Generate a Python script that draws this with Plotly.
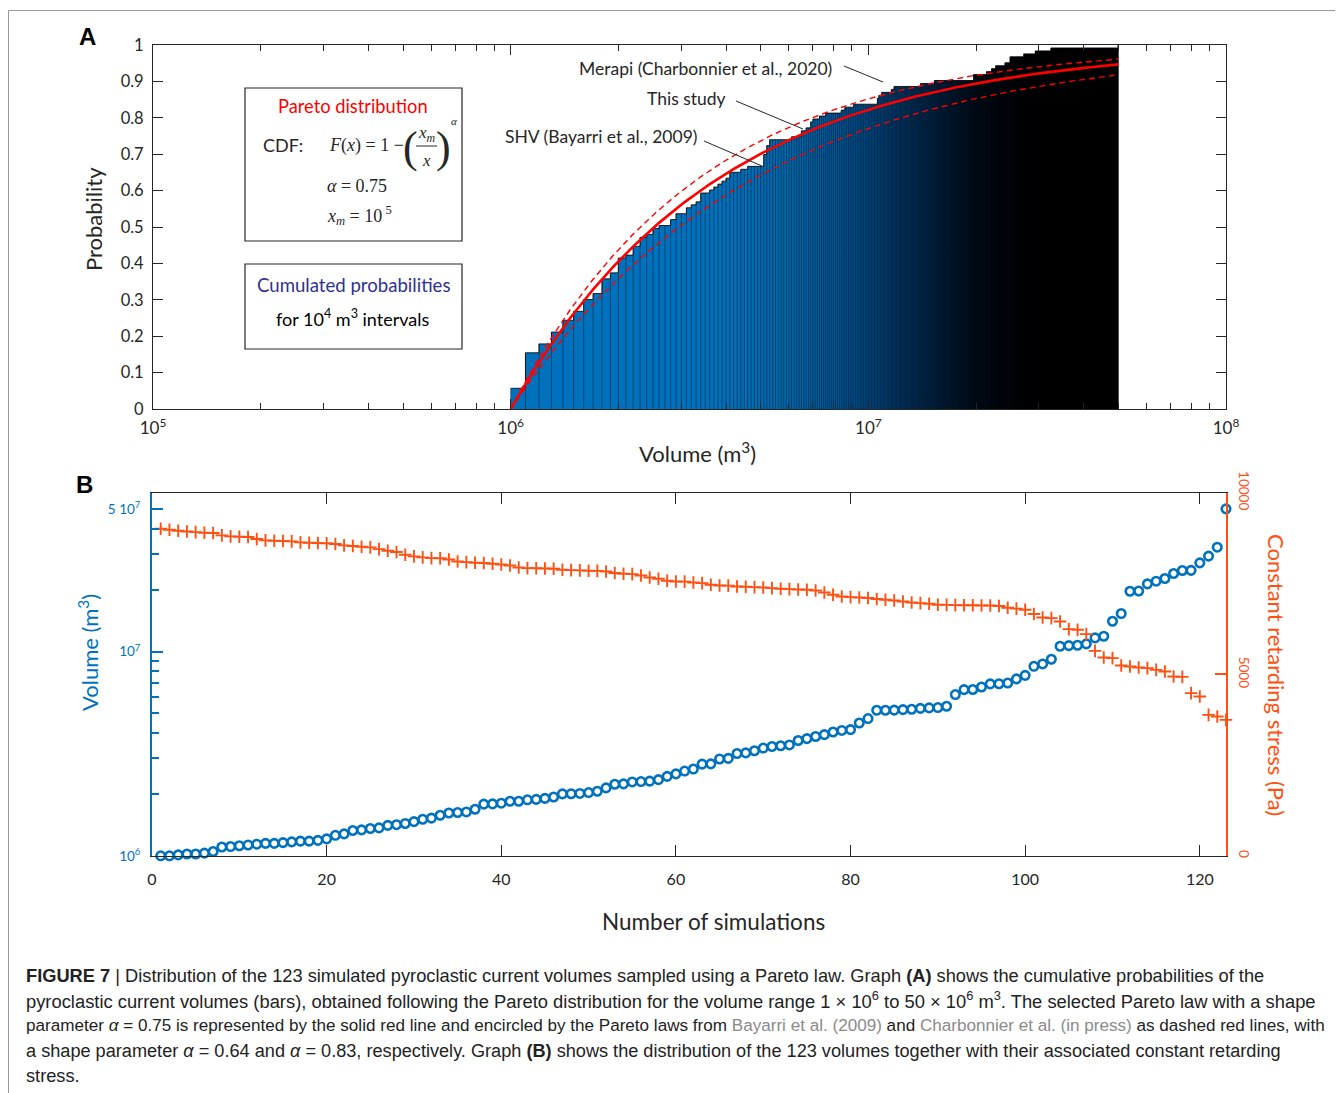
import numpy as np
import plotly.graph_objects as go

W, H = 1343, 1093
OFFSET = 8  # page body margin in the viewer

# ---------------- data ----------------
sim_index = list(range(1, 124))
# simulated volumes, in 10^6 m3
volumes_1e6 = [
    1.00, 1.00, 1.01, 1.02, 1.02, 1.03, 1.05, 1.104, 1.11, 1.12,
    1.13, 1.14, 1.15, 1.15, 1.16, 1.17, 1.18, 1.18, 1.19, 1.21,
    1.26, 1.28, 1.33, 1.34, 1.36, 1.37, 1.41, 1.42, 1.44, 1.47,
    1.51, 1.53, 1.58, 1.62, 1.63, 1.64, 1.69, 1.79, 1.795, 1.81,
    1.85, 1.85, 1.88, 1.89, 1.91, 1.94, 2.01, 2.014, 2.02, 2.04,
    2.07, 2.15, 2.24, 2.25, 2.30, 2.31, 2.32, 2.36, 2.45, 2.52,
    2.60, 2.66, 2.81, 2.82, 2.98, 3.00, 3.17, 3.19, 3.27, 3.37,
    3.43, 3.46, 3.49, 3.67, 3.75, 3.84, 3.92, 4.04, 4.11, 4.15,
    4.47, 4.70, 5.16, 5.16, 5.17, 5.20, 5.22, 5.27, 5.30, 5.32,
    5.40, 6.16, 6.51, 6.52, 6.71, 6.95, 6.96, 7.02, 7.35, 7.65,
    8.47, 8.70, 9.17, 10.62, 10.70, 10.74, 10.91, 11.67, 11.89, 14.08,
    15.36, 19.75, 19.80, 21.47, 22.12, 22.80, 24.12, 24.95, 25.00, 27.21,
    29.33, 32.46, 50.00,
]
# constant retarding stress, Pa
stress_pa = [
    9008, 8981, 8953, 8934, 8916, 8898, 8889, 8825, 8797, 8788,
    8779, 8724, 8687, 8678, 8669, 8660, 8632, 8623, 8614, 8610,
    8586, 8549, 8531, 8512, 8494, 8448, 8402, 8366, 8292, 8246,
    8219, 8200, 8195, 8163, 8108, 8090, 8072, 8063, 8044, 8025,
    7997, 7942, 7925, 7920, 7915, 7906, 7879, 7870, 7861, 7851,
    7848, 7833, 7788, 7769, 7760, 7722, 7667, 7631, 7576, 7557,
    7552, 7529, 7512, 7466, 7447, 7443, 7419, 7410, 7401, 7392,
    7374, 7355, 7346, 7337, 7328, 7309, 7254, 7190, 7144, 7127,
    7117, 7100, 7075, 7052, 7034, 7006, 6979, 6961, 6942, 6915,
    6912, 6906, 6903, 6900, 6897, 6896, 6880, 6835, 6810, 6777,
    6660, 6565, 6548, 6455, 6245, 6226, 6107, 5647, 5463, 5446,
    5242, 5215, 5187, 5170, 5124, 5078, 4940, 4930, 4482, 4390,
    3884, 3838, 3747,
]
# Pareto laws shown in panel A
pareto_alpha_study = 0.75
pareto_alpha_shv = 0.64
pareto_alpha_merapi = 0.83
pareto_xm = 1e6
vol_min, vol_max = 1e6, 5e7
bar_interval = 1e5

# tick definitions
a_xticks = [1e5, 1e6, 1e7, 1e8]
a_xticktext = ["10<sup>5</sup>", "10<sup>6</sup>", "10<sup>7</sup>", "10<sup>8</sup>"]
a_xminor = [m * 10 ** e for e in (5, 6, 7) for m in range(2, 10)]
a_yticks = [round(0.1 * k, 1) for k in range(11)]
a_yticktext = ["0", "0.1", "0.2", "0.3", "0.4", "0.5", "0.6", "0.7", "0.8", "0.9", "1"]
b_xticks = [0, 20, 40, 60, 80, 100, 120]
b_yticks = [1e6, 1e7, 5e7]
b_yticktext = ["10<sup>6</sup>", "10<sup>7</sup>", "5 10<sup>7</sup>"]
b_yminor = [m * 1e6 for m in range(2, 10)] + [2e7, 3e7, 4e7]
b_y2ticks = [0, 5000, 10000]
b_y2ticktext = ["0", "5000", "10000"]

# ---------------- styles ----------------
BLUE = "#0072BD"
ORANGE = "#FF5014"
RED = "#FF0000"
AXC = "#262626"
FONT = "Lato, 'Open Sans', sans-serif"
SERIF = "'Liberation Serif', 'DejaVu Serif', serif"
# bar colour darkening along the volume range (dense bar edges turn the bars black)
BAR_SHADES = [[0.0, "#0072BD"], [0.32, "#0072BD"], [0.45, "#0069AE"], [0.59, "#004E8E"],
              [0.69, "#002E58"], [0.77, "#001122"], [0.86, "#000306"], [1.0, "#000000"]]


def px(x):
    return (x - OFFSET) / W


def py(y):
    return 1 - (y - OFFSET) / H


volumes = np.array(volumes_1e6) * 1e6
vs = np.sort(volumes)
n = len(vs)

# empirical cumulative probabilities per interval
edges = np.arange(vol_min, vol_max + bar_interval / 2, bar_interval)
heights = np.searchsorted(vs, edges[1:] * (1 + 1e-12), side="right") / n

fig = go.Figure()

# bars (filled step polygon)
bx, by = [edges[0]], [0.0]
for k in range(len(heights)):
    bx += [edges[k], edges[k + 1]]
    by += [heights[k], heights[k]]
bx += [edges[-1], edges[0]]
by += [0.0, 0.0]
fig.add_trace(go.Scatter(x=bx, y=by, mode="lines", fill="toself",
                         fillcolor=BLUE,
                         fillgradient=dict(type="horizontal", colorscale=BAR_SHADES),
                         line=dict(width=0, color=BLUE),
                         xaxis="x", yaxis="y", hoverinfo="skip", showlegend=False))
# bar edges
ex, ey = [], []
for k in range(len(edges)):
    left = heights[k - 1] if k > 0 else 0
    right = heights[k] if k < len(heights) else 0
    ex += [edges[k], edges[k], None]
    ey += [0, max(left, right), None]
fig.add_trace(go.Scatter(x=ex, y=ey, mode="lines", line=dict(width=0.4, color="black"),
                         xaxis="x", yaxis="y", hoverinfo="skip", showlegend=False))
fig.add_trace(go.Scatter(x=bx[1:-2], y=by[1:-2], mode="lines",
                         line=dict(width=0.8, color="black"),
                         xaxis="x", yaxis="y", hoverinfo="skip", showlegend=False))

# Pareto curves
xc = np.logspace(np.log10(vol_min), np.log10(vol_max), 400)
for a, dash, w in [(pareto_alpha_shv, "6px,4px", 1.4), (pareto_alpha_merapi, "6px,4px", 1.4),
                   (pareto_alpha_study, "solid", 2.6)]:
    fig.add_trace(go.Scatter(x=xc, y=1 - (pareto_xm / xc) ** a, mode="lines",
                             line=dict(color=RED, width=w, dash=dash),
                             xaxis="x", yaxis="y", hoverinfo="skip", showlegend=False))

# panel B
fig.add_trace(go.Scatter(x=sim_index, y=volumes, mode="markers",
                         marker=dict(symbol="circle-open", size=8.5, color=BLUE,
                                     line=dict(width=2.6, color=BLUE)),
                         cliponaxis=False, xaxis="x2", yaxis="y2", showlegend=False))
fig.add_trace(go.Scatter(x=sim_index, y=stress_pa, mode="markers",
                         marker=dict(symbol="cross-thin", size=9, color=ORANGE,
                                     line=dict(width=1.9, color=ORANGE)),
                         cliponaxis=False, xaxis="x2", yaxis="y3", showlegend=False))

tick_font = dict(family=FONT, size=16, color=AXC)
fig.update_layout(
    template="none",
    width=W, height=H, margin=dict(l=0, r=0, t=0, b=0, pad=0, autoexpand=False),
    paper_bgcolor="white", plot_bgcolor="rgba(0,0,0,0)",
    font=dict(family=FONT, color=AXC),
    xaxis=dict(type="log", range=[5, 8], domain=[px(153), px(1226)], anchor="y",
               automargin=False,
               tickmode="array", tickvals=a_xticks, ticktext=a_xticktext,
               ticks="inside", ticklen=10, tickcolor=AXC, showline=True, linecolor=AXC,
               linewidth=1, mirror="ticks", showgrid=False, zeroline=False,
               ticklabelstandoff=4,
               tickfont=dict(family=FONT, size=17, color=AXC),
               minor=dict(tickmode="array", tickvals=a_xminor, ticks="inside",
                          ticklen=6, tickcolor=AXC, showgrid=False)),
    yaxis=dict(range=[0, 1], domain=[py(409), py(45)], anchor="x", automargin=False,
               tickmode="array", tickvals=a_yticks, ticktext=a_yticktext,
               ticks="inside", ticklen=10, tickcolor=AXC, showline=True, linecolor=AXC,
               linewidth=1, mirror="ticks", showgrid=False, zeroline=False,
               ticklabelstandoff=5, tickfont=dict(family=FONT, size=16.5, color=AXC)),
    xaxis2=dict(range=[0, 123], domain=[px(152), px(1226)], anchor="y2", automargin=False,
                tickmode="array", tickvals=b_xticks, ticks="inside", ticklen=11,
                tickcolor=AXC, showline=True, linecolor=AXC, linewidth=1,
                mirror="ticks", showgrid=False, zeroline=False,
                ticklabelstandoff=9, tickfont=tick_font),
    yaxis2=dict(type="log", range=[5.999, np.log10(6e7)], domain=[py(856), py(492.7)],
                anchor="x2", automargin=False,
                tickmode="array", tickvals=b_yticks, ticktext=b_yticktext,
                ticks="inside", ticklen=11, tickwidth=1.5, tickcolor=BLUE, showline=True,
                linecolor=BLUE, linewidth=2, showgrid=False, zeroline=False,
                ticklabelstandoff=7,
                tickfont=dict(family=FONT, size=13.5, color=BLUE),
                minor=dict(tickmode="array", tickvals=b_yminor, ticks="inside",
                           ticklen=7, tickwidth=1.5, tickcolor=BLUE, showgrid=False)),
    yaxis3=dict(range=[0, 10000], overlaying="y2", side="right", anchor="x2",
                automargin=False,
                tickmode="array", tickvals=b_y2ticks, ticktext=b_y2ticktext,
                ticks="inside", ticklen=11,
                tickwidth=1.5, tickcolor=ORANGE, showline=True, linecolor=ORANGE,
                linewidth=2, showgrid=False, zeroline=False, tickangle=90,
                ticklabelstandoff=6,
                tickfont=dict(family=FONT, size=13.5, color=ORANGE)),
)

ann = []


def text(x, y, s, size=16, color=AXC, family=FONT, xanchor="center", angle=0, yanchor="middle"):
    ann.append(dict(x=px(x), y=py(y), xref="paper", yref="paper", text=s, showarrow=False,
                    font=dict(family=family, size=size, color=color), xanchor=xanchor,
                    yanchor=yanchor, textangle=angle))


# panel letters
text(87, 37, "<b>A</b>", size=24, color="black", family="'Liberation Sans', Arial")
text(84, 484, "<b>B</b>", size=24, color="black", family="'Liberation Sans', Arial")
# axis titles
text(94, 219, "Probability", size=22, angle=-90)
text(697, 452, "Volume (m<sup>3</sup>)", size=22)
text(713, 921, "Number of simulations", size=22.5)
text(88, 653, "Volume (m<sup>3</sup>)", size=22, color=BLUE, angle=-90)
text(1277, 675, "Constant retarding stress (Pa)", size=22, color=ORANGE, angle=90)
# curve labels
text(705, 68, "Merapi (Charbonnier et al., 2020)", size=17.5)
text(686, 99, "This study", size=17.5)
text(601, 137, "SHV (Bayarri et al., 2009)", size=17.5)
# box 1
text(353, 106, "Pareto distribution", size=18.3, color=RED)
text(283, 145, "CDF:", size=18)
text(327, 145, "<i>F</i>(<i>x</i>) = 1 −", size=18, family=SERIF, xanchor="left")
text(410, 147, "(", size=44, family=SERIF)
text(443, 147, ")", size=44, family=SERIF)
text(427, 134, "<i>x</i><sub><i>m</i></sub>", size=17, family=SERIF)
text(427, 160, "<i>x</i>", size=17, family=SERIF)
text(454, 121, "<i>α</i>", size=11, family=SERIF)
text(325, 186, "<i>α</i> = 0.75", size=18, family=SERIF, xanchor="left")
text(325, 216, "<i>x</i><sub><i>m</i></sub> = 10<sup> 5</sup>", size=18, family=SERIF, xanchor="left")
# box 2
text(353, 285, "Cumulated probabilities", size=18.6, color="#2E3192")
text(353, 318, "for 10<sup>4</sup> m<sup>3</sup> intervals", size=18, color="black")

# caption
GRAY = "#8a8a8a"
cap_font = "'Liberation Sans', Arial, sans-serif"
caption_lines = [
    "<b>FIGURE 7</b> | Distribution of the 123 simulated pyroclastic current volumes sampled using a Pareto law. Graph <b>(A)</b> shows the cumulative probabilities of the",
    "pyroclastic current volumes (bars), obtained following the Pareto distribution for the volume range 1 × 10<sup>6</sup> to 50 × 10<sup>6</sup> m<sup>3</sup>. The selected Pareto law with a shape",
    f"parameter <i>α</i> = 0.75 is represented by the solid red line and encircled by the Pareto laws from <span style='color:{GRAY}'>Bayarri et al. (2009)</span> and <span style='color:{GRAY}'>Charbonnier et al. (in press)</span> as dashed red lines, with",
    "a shape parameter <i>α</i> = 0.64 and <i>α</i> = 0.83, respectively. Graph <b>(B)</b> shows the distribution of the 123 volumes together with their associated constant retarding",
    "stress.",
]
caption_sizes = [18.25, 18.35, 17.1, 18.15, 18.2]
for i, line in enumerate(caption_lines):
    text(24, 975 + i * 25.3, line, size=caption_sizes[i], color="#222222", family=cap_font,
         xanchor="left")

fig.update_layout(annotations=ann)

shapes = [
    # boxes
    dict(type="rect", xref="paper", yref="paper", x0=px(245), x1=px(462), y0=py(88), y1=py(241),
         line=dict(color=AXC, width=1.2)),
    dict(type="rect", xref="paper", yref="paper", x0=px(245), x1=px(462), y0=py(264), y1=py(349),
         line=dict(color=AXC, width=1.2)),
    # fraction bar
    dict(type="line", xref="paper", yref="paper", x0=px(416), x1=px(437), y0=py(146), y1=py(146),
         line=dict(color=AXC, width=1)),
    # leader lines
    dict(type="line", xref="paper", yref="paper", x0=px(844), y0=py(66), x1=px(883), y1=py(82),
         line=dict(color=AXC, width=1)),
    dict(type="line", xref="paper", yref="paper", x0=px(736), y0=py(101), x1=px(803), y1=py(129),
         line=dict(color=AXC, width=1)),
    dict(type="line", xref="paper", yref="paper", x0=px(704), y0=py(141), x1=px(762), y1=py(166),
         line=dict(color=AXC, width=1)),
    # figure frame
    dict(type="line", xref="paper", yref="paper", x0=px(8.5), y0=py(10.5), x1=1, y1=py(10.5),
         line=dict(color="#9a9a9a", width=1)),
    dict(type="line", xref="paper", yref="paper", x0=px(8.5), y0=py(10.5), x1=px(8.5), y1=0,
         line=dict(color="#9a9a9a", width=1)),
]
fig.update_layout(shapes=shapes)

fig.write_html("out.html")
